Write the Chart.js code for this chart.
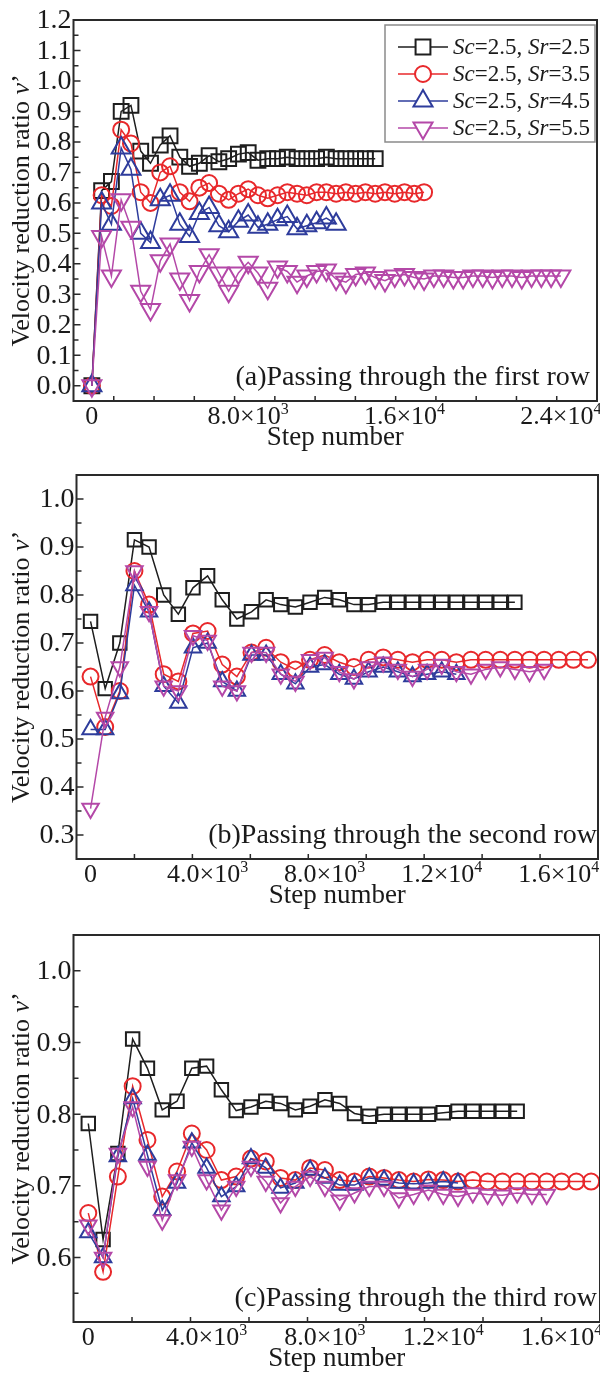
<!DOCTYPE html>
<html>
<head>
<meta charset="utf-8">
<script src="https://cdn.jsdelivr.net/npm/chart.js@4/dist/chart.umd.min.js"></script>
<style>
  html, body { margin: 0; padding: 0; background: #fff; }
  #wrap { position: relative; width: 600px; height: 1378px; }
  canvas { position: absolute; left: 0; }
</style>
</head>
<body>
<div id="wrap">
  <canvas id="ca" width="600" height="460" style="top:0"></canvas>
  <canvas id="cb" width="600" height="460" style="top:460px"></canvas>
  <canvas id="cc" width="600" height="458" style="top:920px"></canvas>
</div>
<script>
const FONT = '"Liberation Serif", "Times New Roman", Times, serif';
const INK = '#1a1a1a';
const STEP = 500; // step number between two samples

const seriesLabels = ['Sc=2.5, Sr=2.5', 'Sc=2.5, Sr=3.5', 'Sc=2.5, Sr=4.5', 'Sc=2.5, Sr=5.5'];
const seriesColors = ['#1e1e1e', '#e8282b', '#2e3c9c', '#b448a8'];
const seriesStyles = ['rect', 'circle', 'triangle', 'triangle'];
const seriesRotation = [0, 0, 0, 180];

// (a) first row
const rowA_sr25 = [0.00, 0.64, 0.67, 0.90, 0.92, 0.77, 0.73, 0.79, 0.82, 0.75, 0.72, 0.73, 0.755, 0.735, 0.745,
  0.76, 0.765, 0.74, 0.745, 0.745, 0.75, 0.745, 0.745, 0.745, 0.75, 0.745, 0.745, 0.745, 0.745, 0.745];
const rowA_sr35 = [0.00, 0.625, 0.59, 0.84, 0.795, 0.635, 0.60, 0.70, 0.72, 0.635, 0.605, 0.65, 0.665, 0.63, 0.61,
  0.63, 0.645, 0.625, 0.615, 0.625, 0.635, 0.63, 0.625, 0.635, 0.635, 0.63, 0.635, 0.63, 0.635, 0.63,
  0.635, 0.63, 0.635, 0.63, 0.635];
const rowA_sr45 = [0.00, 0.60, 0.53, 0.78, 0.71, 0.50, 0.47, 0.61, 0.625, 0.53, 0.49, 0.565, 0.585, 0.525, 0.505,
  0.54, 0.56, 0.52, 0.53, 0.545, 0.555, 0.515, 0.525, 0.535, 0.55, 0.53];
const rowA_sr55 = [0.00, 0.49, 0.36, 0.61, 0.52, 0.31, 0.25, 0.41, 0.465, 0.35, 0.28, 0.375, 0.43, 0.37, 0.31,
  0.37, 0.405, 0.37, 0.32, 0.39, 0.375, 0.34, 0.36, 0.375, 0.38, 0.35, 0.34, 0.365, 0.37, 0.355,
  0.345, 0.36, 0.365, 0.355, 0.35, 0.36, 0.36, 0.355, 0.355, 0.36, 0.36, 0.355, 0.36, 0.36, 0.355,
  0.36, 0.36, 0.36, 0.36];

// (b) second row
const rowB_sr25 = [0.745, 0.605, 0.70, 0.915, 0.90, 0.80, 0.76, 0.815, 0.84, 0.79, 0.75, 0.765, 0.79, 0.78, 0.775,
  0.785, 0.795, 0.79, 0.78, 0.78, 0.785, 0.785, 0.785, 0.785, 0.785, 0.785, 0.785, 0.785, 0.785, 0.785];
const rowB_sr35 = [0.63, 0.525, 0.60, 0.85, 0.78, 0.635, 0.62, 0.72, 0.725, 0.655, 0.63, 0.68, 0.69, 0.66, 0.645,
  0.665, 0.675, 0.66, 0.65, 0.665, 0.67, 0.665, 0.66, 0.665, 0.665, 0.66, 0.665, 0.665, 0.665, 0.665,
  0.665, 0.665, 0.665, 0.665, 0.665];
const rowB_sr45 = [0.52, 0.52, 0.595, 0.82, 0.765, 0.61, 0.575, 0.69, 0.70, 0.62, 0.60, 0.675, 0.675, 0.635, 0.615,
  0.65, 0.655, 0.635, 0.625, 0.64, 0.65, 0.64, 0.63, 0.635, 0.64, 0.635];
const rowB_sr55 = [0.355, 0.545, 0.65, 0.85, 0.765, 0.61, 0.60, 0.715, 0.705, 0.61, 0.60, 0.68, 0.68, 0.635, 0.62,
  0.665, 0.67, 0.64, 0.625, 0.65, 0.66, 0.645, 0.63, 0.645, 0.655, 0.64, 0.635, 0.645, 0.65, 0.645,
  0.64, 0.645];

// (c) third row
const rowC_sr25 = [0.787, 0.625, 0.745, 0.905, 0.864, 0.806, 0.818, 0.864, 0.867, 0.834, 0.805, 0.81, 0.818, 0.815, 0.806,
  0.811, 0.82, 0.815, 0.801, 0.797, 0.80, 0.80, 0.80, 0.80, 0.802, 0.804, 0.804, 0.804, 0.804, 0.804];
const rowC_sr35 = [0.662, 0.58, 0.713, 0.839, 0.764, 0.685, 0.72, 0.773, 0.75, 0.708, 0.713, 0.738, 0.734, 0.711, 0.708,
  0.725, 0.722, 0.708, 0.706, 0.713, 0.711, 0.708, 0.706, 0.709, 0.708, 0.706, 0.708, 0.706, 0.706, 0.706,
  0.706, 0.706, 0.706, 0.706, 0.706];
const rowC_sr45 = [0.635, 0.60, 0.741, 0.822, 0.743, 0.666, 0.704, 0.76, 0.725, 0.685, 0.699, 0.738, 0.725, 0.697, 0.704,
  0.722, 0.711, 0.701, 0.701, 0.711, 0.708, 0.704, 0.703, 0.704, 0.706, 0.704];
const rowC_sr55 = [0.645, 0.60, 0.745, 0.81, 0.727, 0.652, 0.708, 0.755, 0.708, 0.666, 0.699, 0.727, 0.706, 0.676, 0.699,
  0.713, 0.699, 0.68, 0.69, 0.699, 0.699, 0.683, 0.688, 0.694, 0.688, 0.685, 0.69, 0.688, 0.687, 0.69,
  0.688, 0.688];

// labelled ticks
const xLabelsA = [0, 8000, 16000, 24000];
const xLabelsBC = [0, 4000, 8000, 12000, 16000];
const yLabelsA = [0.0, 0.1, 0.2, 0.3, 0.4, 0.5, 0.6, 0.7, 0.8, 0.9, 1.0, 1.1, 1.2];
const yLabelsB = [0.3, 0.4, 0.5, 0.6, 0.7, 0.8, 0.9, 1.0];
const yLabelsC = [0.6, 0.7, 0.8, 0.9, 1.0];

const panels = [
  {
    id: 'ca', caption: '(a)Passing through the first row', captionRight: 590, legend: true,
    series: [rowA_sr25, rowA_sr35, rowA_sr45, rowA_sr55],
    xMin: -940, xMax: 25850, yMin: -0.05, yMax: 1.2, xLabels: xLabelsA, yLabels: yLabelsA,
    pad: { left: 73.5, right: 3, top: 20, bottom: 59 }, radius: [10.5, 8, 11, 11],
  },
  {
    id: 'cb', caption: '(b)Passing through the second row', captionRight: 597, legend: false,
    series: [rowB_sr25, rowB_sr35, rowB_sr45, rowB_sr55],
    xMin: -480, xMax: 17340, yMin: 0.25, yMax: 1.05, xLabels: xLabelsBC, yLabels: yLabelsB,
    pad: { left: 76.5, right: 2, top: 15, bottom: 61 }, radius: [9.5, 8, 9.5, 9.5],
  },
  {
    id: 'cc', caption: '(c)Passing through the third row', captionRight: 597, legend: false,
    series: [rowC_sr25, rowC_sr35, rowC_sr45, rowC_sr55],
    xMin: -500, xMax: 17300, yMin: 0.51, yMax: 1.05, xLabels: xLabelsBC, yLabels: yLabelsC,
    pad: { left: 73.5, right: 0, top: 15, bottom: 56 }, radius: [9.5, 8, 9.5, 9.5],
  },
];

function drawRich(ctx, parts, x, y, align, size) {
  const fontOf = (pt) => `${pt.it ? 'italic ' : ''}${pt.sup ? Math.round(size * 0.62) : size}px ${FONT}`;
  let w = 0;
  parts.forEach((pt) => {
    ctx.font = fontOf(pt);
    pt.w = ctx.measureText(pt.t).width;
    w += pt.w;
  });
  let cx = x;
  if (align === 'center') cx = x - w / 2;
  if (align === 'right') cx = x - w;
  ctx.textAlign = 'left';
  parts.forEach((pt) => {
    ctx.font = fontOf(pt);
    ctx.fillText(pt.t, cx, pt.sup ? y - size * 0.38 : y);
    cx += pt.w;
  });
}

function stepLabel(v) {
  if (v === 0) return [{ t: '0' }];
  const e = Math.floor(Math.log10(v));
  const m = v / 10 ** e;
  return [{ t: `${m.toFixed(1)}×10` }, { t: String(e), sup: true }];
}

function richLabel(text) {
  return text.split(/(Sc|Sr)/).filter(Boolean).map((s) => ({ t: s, it: s === 'Sc' || s === 'Sr' }));
}

function makeDecor(p) {
  return {
    id: 'decor',
    afterDraw(chart) {
      const { ctx, chartArea: a } = chart;
      const { x, y } = chart.scales;
      const near = (list, v) => list.some((l) => Math.abs(l - v) < 1e-6);
      ctx.save();
      ctx.strokeStyle = '#2a2a2a';
      ctx.fillStyle = INK;

      // inward tick marks
      ctx.lineWidth = 1.5;
      ctx.beginPath();
      x.ticks.forEach((t) => {
        const px = x.getPixelForValue(t.value);
        if (px < a.left + 2 || px > a.right - 2) return;
        const len = near(p.xLabels, t.value) ? 7 : 5;
        ctx.moveTo(px, a.bottom);
        ctx.lineTo(px, a.bottom - len);
      });
      y.ticks.forEach((t) => {
        const py = y.getPixelForValue(t.value);
        if (py < a.top + 2 || py > a.bottom - 2) return;
        const len = near(p.yLabels, t.value) ? 7 : 5;
        ctx.moveTo(a.left, py);
        ctx.lineTo(a.left + len, py);
      });
      ctx.stroke();

      // frame
      ctx.lineWidth = 2;
      ctx.strokeRect(a.left, a.top, a.right - a.left, a.bottom - a.top);

      // tick labels
      ctx.textBaseline = 'middle';
      p.yLabels.forEach((v) => {
        drawRich(ctx, [{ t: v.toFixed(1) }], a.left - 2, y.getPixelForValue(v) + 1, 'right', 28);
      });
      ctx.textBaseline = 'alphabetic';
      p.xLabels.forEach((v) => {
        drawRich(ctx, stepLabel(v), x.getPixelForValue(v), a.bottom + 23, 'center', 26);
      });

      // axis titles
      drawRich(ctx, [{ t: 'Step number' }], (a.left + a.right) / 2, a.bottom + 44, 'center', 27);
      ctx.save();
      ctx.translate(22, (a.top + a.bottom) / 2);
      ctx.rotate(-Math.PI / 2);
      ctx.textBaseline = 'middle';
      drawRich(ctx, [{ t: 'Velocity reduction ratio ' }, { t: 'v', it: true }, { t: '’' }], 0, 0, 'center', 26);
      ctx.restore();

      // panel caption
      drawRich(ctx, [{ t: p.caption }], p.captionRight, a.bottom - 16, 'right', 28);

      // legend
      if (p.legend) {
        const bx = 385;
        const by = 25;
        ctx.lineWidth = 1.5;
        ctx.strokeStyle = '#8a8a8a';
        ctx.strokeRect(bx, by, 210, 117);
        chart.data.datasets.forEach((ds, k) => {
          const ly = by + 22 + k * 27;
          ctx.strokeStyle = ds.borderColor;
          ctx.lineWidth = 1.5;
          ctx.beginPath();
          ctx.moveTo(bx + 13, ly);
          ctx.lineTo(bx + 63, ly);
          ctx.stroke();
          ctx.fillStyle = '#fff';
          ctx.lineWidth = 2;
          Chart.helpers.drawPoint(ctx, {
            pointStyle: ds.pointStyle, rotation: ds.pointRotation, radius: ds.pointRadius, borderWidth: 2,
          }, bx + 38, ly);
          ctx.fillStyle = INK;
          ctx.textBaseline = 'middle';
          drawRich(ctx, richLabel(ds.label), bx + 68, ly + 1, 'left', 23);
        });
      }
      ctx.restore();
    },
  };
}

panels.forEach((p) => {
  const ctx = document.getElementById(p.id).getContext('2d');
  new Chart(ctx, {
    type: 'line',
    data: {
      datasets: p.series.map((vals, k) => ({
        label: seriesLabels[k],
        data: vals.map((v, i) => ({ x: i * STEP, y: v })),
        borderColor: seriesColors[k],
        borderWidth: 1.5,
        pointStyle: seriesStyles[k],
        pointRotation: seriesRotation[k],
        pointRadius: p.radius[k],
        pointBorderWidth: 2,
        pointBorderColor: seriesColors[k],
        pointBackgroundColor: 'rgba(255,255,255,0)',
        tension: 0,
        order: 3 - k,
      })),
    },
    options: {
      responsive: false,
      animation: false,
      events: [],
      layout: { padding: p.pad, autoPadding: false },
      plugins: { legend: { display: false }, tooltip: { enabled: false } },
      scales: {
        x: {
          type: 'linear', min: p.xMin, max: p.xMax,
          ticks: { display: false, stepSize: 2000, includeBounds: false },
          grid: { display: false, drawTicks: false },
          border: { display: false },
        },
        y: {
          type: 'linear', min: p.yMin, max: p.yMax,
          ticks: { display: false, stepSize: 0.05, includeBounds: false },
          grid: { display: false, drawTicks: false },
          border: { display: false },
        },
      },
    },
    plugins: [makeDecor(p)],
  });
});
</script>
</body>
</html>
